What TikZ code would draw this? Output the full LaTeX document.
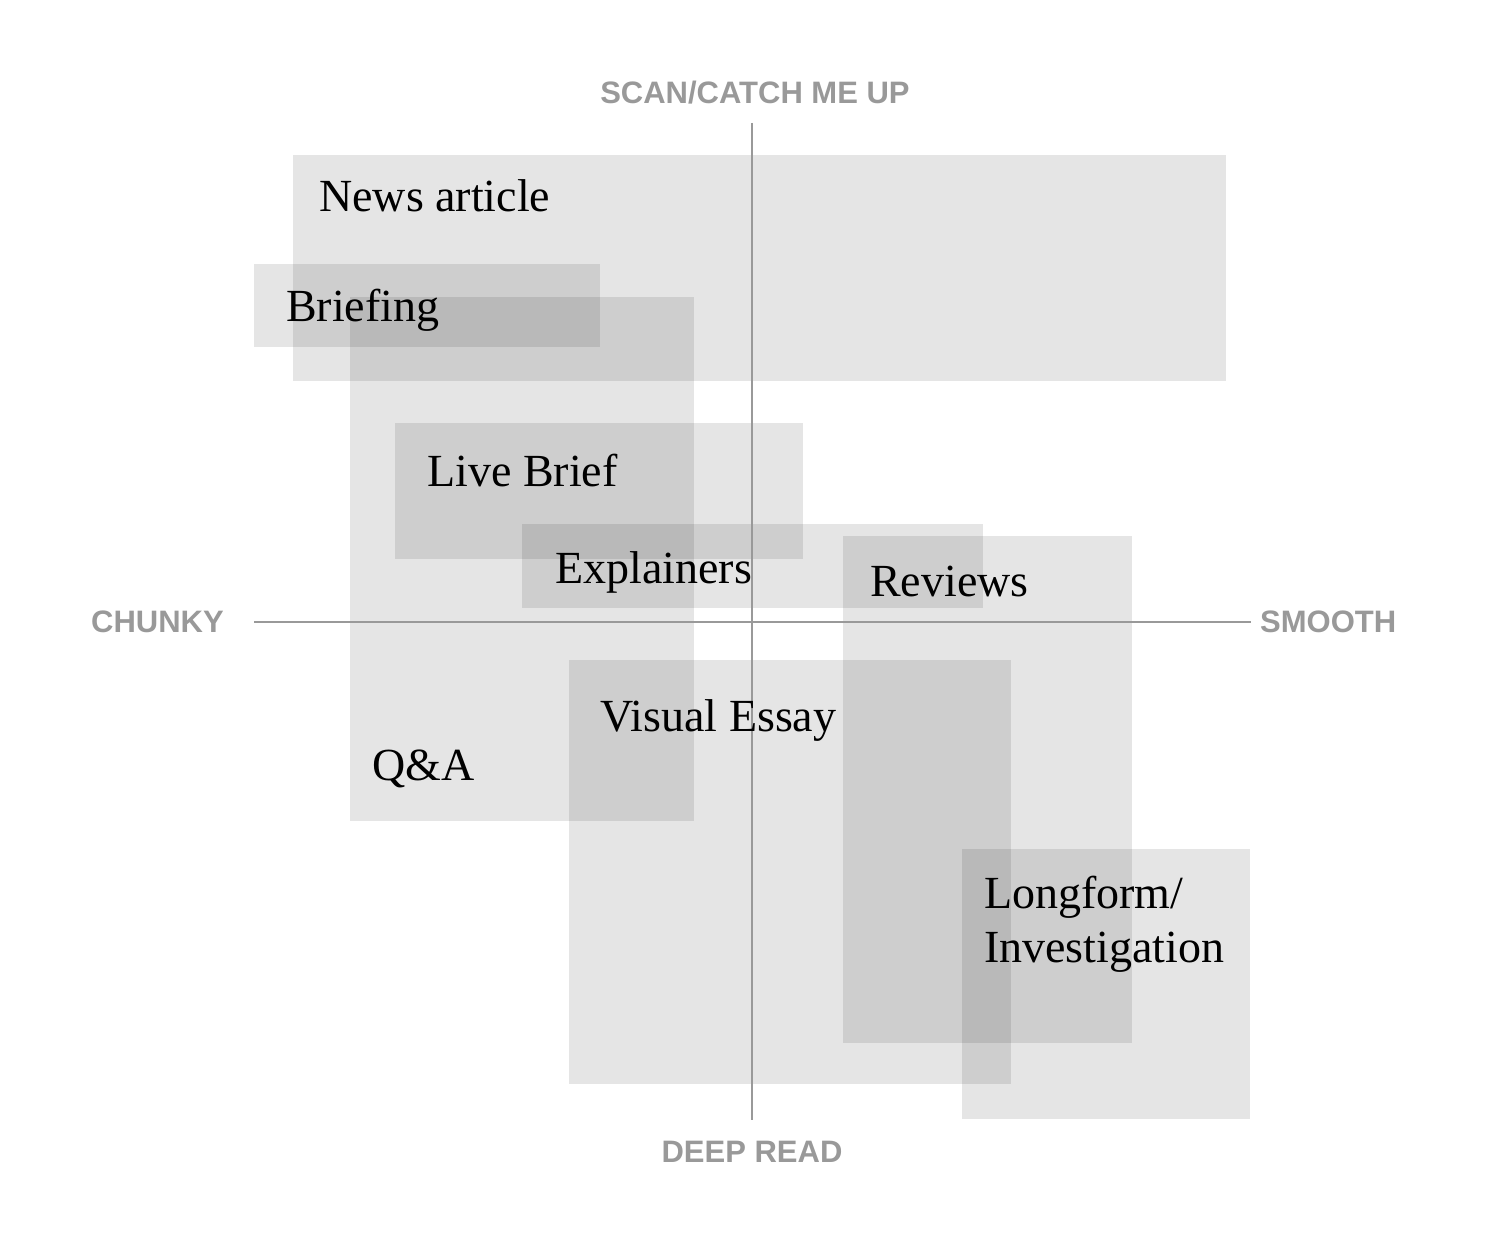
\documentclass[tikz,border=0pt]{standalone}
\usepackage{fontspec}
\setmainfont{Liberation Serif}
\newfontfamily\axisfont{Liberation Sans}
\usepackage{xcolor}
\usetikzlibrary{positioning}
\definecolor{axisgray}{HTML}{999999}

\begin{document}
\begin{tikzpicture}[x=1pt, y=-1pt,
    genre/.style={fill=black, fill opacity=0.1},
    genretext/.style={inner sep=0pt, anchor=base west, align=left,
      font=\fontsize{46}{54}\selectfont},
    axis/.style={draw=axisgray, line width=2.7pt},
    axistext/.style={inner sep=0pt, text=axisgray,
      font=\axisfont\bfseries\fontsize{31}{36}\selectfont}]

    \useasboundingbox (0, 0) rectangle (1500, 1241);

    % genre boxes
    \foreach \xa/\ya/\xb/\yb in {293/155/1226/381, 254/264/600/347,
      350/297/694/821, 395/423/803/559, 522/524/983/608,
      843/536/1132/1043, 569/660/1011/1084, 962/849/1250/1119} {
      \fill[genre] (\xa, \ya) rectangle (\xb, \yb);
    }

    % axes
    \coordinate (top) at (752, 123);
    \coordinate (bottom) at (752, 1120);
    \coordinate (left) at (254, 622);
    \coordinate (right) at (1251, 622);
    \draw[axis] (left) -- (right);
    \draw[axis] (top) -- (bottom);

    \node[axistext, above=19pt of top, xshift=3pt] (scan) {SCAN/CATCH ME UP};
    \node[axistext, below=21pt of bottom] (deep) {DEEP READ};
    \node[axistext, left=30pt of left] (chunky) {CHUNKY};
    \node[axistext, right=9pt of right] (smooth) {SMOOTH};

    % genre labels
    \node[genretext] (news) at (319, 212) {News article};
    \node[genretext] (briefing) at (286, 322) {Briefing};
    \node[genretext] (live) at (427, 486) {Live Brief};
    \node[genretext] (explainers) at (555, 583) {Explainers};
    \node[genretext] (reviews) at (870, 596) {Reviews};
    \node[genretext] (visual) at (600, 731) {Visual Essay};
    \node[genretext] (qa) at (372, 780) {Q\&A};
    \node[genretext] (longform) at (984, 962) {Longform/\\Investigation};

  \end{tikzpicture}
\end{document}
